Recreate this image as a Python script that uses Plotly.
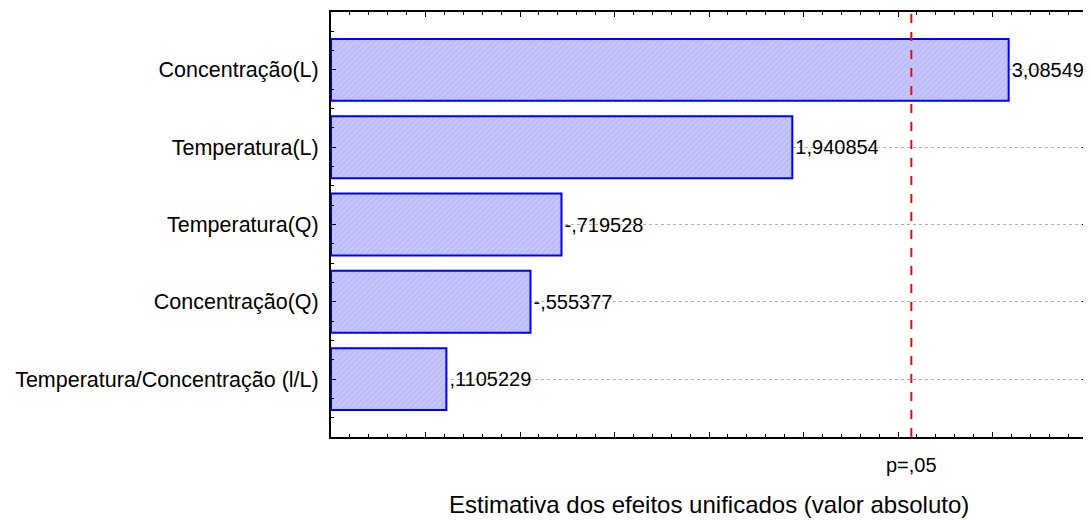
import plotly.graph_objects as go

fatores = [
    "Concentração(L)",
    "Temperatura(L)",
    "Temperatura(Q)",
    "Concentração(Q)",
    "Temperatura/Concentração (l/L)",
]
efeitos = [3.08549, 1.940854, -0.719528, -0.555377, 0.1105229]
rotulos = ["3,08549", "1,940854", "-,719528", "-,555377", ",1105229"]
p_critico = 2.5706

x_min, x_max = -0.5, 3.5
posicoes = list(range(len(fatores)))
absolutos = [abs(v) for v in efeitos]

fonte = "Liberation Sans, Arial"

fig = go.Figure()

fig.add_trace(go.Bar(
    y=posicoes,
    x=[v - x_min for v in absolutos],
    base=x_min,
    orientation="h",
    width=0.8,
    text=rotulos,
    textposition="outside",
    constraintext="none",
    cliponaxis=False,
    outsidetextfont=dict(family=fonte, size=20, color="black"),
    marker=dict(
        color="#c6c6ff",
        line=dict(color="#0000ff", width=2),
        pattern=dict(shape="/", fgcolor="#a9a9f2", bgcolor="#c6c6ff", size=4, solidity=0.35),
    ),
    showlegend=False,
    hoverinfo="skip",
))

fig.add_shape(
    type="line", xref="x", yref="paper",
    x0=p_critico, x1=p_critico, y0=0, y1=1,
    line=dict(color="#ff0000", width=2, dash="dash"),
)

fig.add_annotation(
    x=p_critico, xref="x", y=0, yref="paper",
    yshift=-41, text="p=,05", showarrow=False,
    font=dict(family=fonte, size=20, color="black"),
)

fig.add_annotation(
    x=0.5, xref="paper", y=0, yref="paper",
    yshift=-83, text="Estimativa dos efeitos unificados (valor absoluto)", showarrow=False,
    font=dict(family=fonte, size=24, color="black"),
)

fig.update_xaxes(
    range=[x_min, x_max],
    showticklabels=False,
    ticks="inside", ticklen=5, tickwidth=1, tickcolor="black",
    tick0=0, dtick=0.5,
    minor=dict(ticks="inside", ticklen=3, dtick=0.1, tickcolor="black", showgrid=False),
    showgrid=False, zeroline=False,
    showline=True, linecolor="black", linewidth=2, mirror="ticks",
)

fig.update_yaxes(
    range=[4.75, -0.75],
    tickmode="array", tickvals=posicoes, ticktext=fatores,
    ticks="inside", ticklen=5, tickwidth=1, tickcolor="black",
    minor=dict(ticks="inside", ticklen=3, tick0=0, dtick=0.25, tickcolor="black", showgrid=False),
    showgrid=True, gridcolor="#b0b0b0", griddash="dot", gridwidth=1,
    zeroline=False,
    showline=True, linecolor="black", linewidth=2, mirror="ticks",
    tickfont=dict(family=fonte, size=21.5, color="black"),
    ticklabelstandoff=6,
)

fig.update_layout(
    width=1083, height=512,
    margin=dict(l=323, r=2, t=4, b=83),
    paper_bgcolor="white",
    plot_bgcolor="white",
)

fig.write_html("out.html")
